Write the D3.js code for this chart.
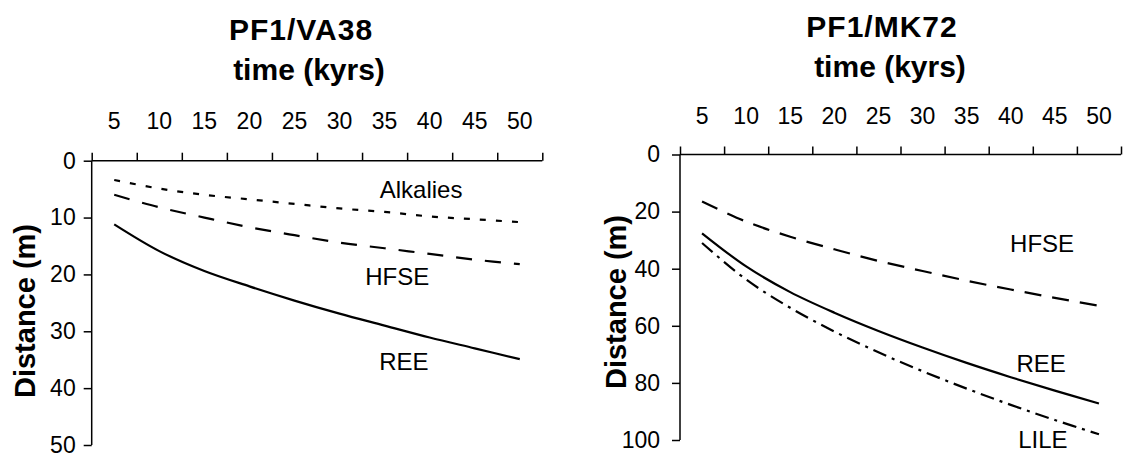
<!DOCTYPE html>
<html><head><meta charset="utf-8">
<script src="https://cdn.jsdelivr.net/npm/d3@7"></script>
<style>body{margin:0;background:#fff} svg{display:block}</style>
</head><body>
<svg id="c" width="1125" height="457"></svg>
<script>
const categories = ["5","10","15","20","25","30","35","40","45","50"];
const va38Alkalies = [3.4,4.9,6.0,6.8,7.6,8.4,9.0,9.8,10.3,10.8];
const va38HFSE     = [6.0,8.2,10.0,11.7,13.1,14.4,15.4,16.4,17.4,18.2];
const va38REE      = [11.2,15.9,19.4,22.1,24.6,26.9,29.0,31.1,33.0,34.9];
const mk72HFSE     = [16.5,23.5,28.8,33.2,37.3,40.8,44.2,47.3,50.2,53.0];
const mk72REE      = [27.6,39.2,48.2,55.4,61.8,67.6,73.0,78.0,82.7,87.2];
const mk72LILE     = [31.0,43.8,53.7,62.0,69.3,75.9,82.0,87.7,93.0,98.0];
const va38YTicks = [0,10,20,30,40,50];
const mk72YTicks = [0,20,40,60,80,100];

const FONT = "'Liberation Sans', Arial, Helvetica, sans-serif";
const svg = d3.select("#c");

function panel(p){
  const g = svg.append("g");
  const x = d3.scaleBand().domain(categories).range([p.x0, p.x1]).padding(0);
  const xi = d3.scaleLinear().domain([0, categories.length]).range([p.x0, p.x1]);
  const y = d3.scaleLinear().domain([0, p.yMax]).range([p.y0, p.y1]);

  // axis lines
  g.append("line").attr("x1", p.x0).attr("x2", p.x1).attr("y1", p.y0).attr("y2", p.y0)
    .attr("stroke","#000").attr("stroke-width",1.5);
  g.append("line").attr("x1", p.x0).attr("x2", p.x0).attr("y1", p.y0).attr("y2", p.y1)
    .attr("stroke","#000").attr("stroke-width",1.5);

  // x boundary ticks (upward)
  g.append("g").attr("transform",`translate(0,${p.y0})`)
    .call(d3.axisTop(xi).tickValues(d3.range(categories.length+1)).tickSize(8).tickFormat(""))
    .call(s=>s.select(".domain").remove())
    .selectAll("line").attr("stroke","#000").attr("stroke-width",1.5);

  // x labels centred in the categories
  const xl = g.append("g").attr("transform",`translate(0,${p.y0})`)
    .call(d3.axisTop(x).tickSize(0).tickPadding(p.xPad))
    .call(s=>s.select(".domain").remove());
  xl.attr("font-size",23).attr("font-family",FONT);
  xl.selectAll("text").attr("fill","#000");

  // y axis
  const yl = g.append("g").attr("transform",`translate(${p.x0},0)`)
    .call(d3.axisLeft(y).tickValues(p.yTicks).tickSize(8).tickPadding(p.yPad).tickFormat(d3.format("d")))
    .call(s=>s.select(".domain").remove());
  yl.attr("font-size",23).attr("font-family",FONT);
  yl.selectAll("line").attr("stroke","#000").attr("stroke-width",1.5);
  yl.selectAll("text").attr("fill","#000");

  // series
  const line = d3.line()
    .x((d,i)=>x(categories[i]) + x.bandwidth()/2)
    .y(d=>y(d))
    .curve(d3.curveCatmullRom.alpha(0.5));
  p.series.forEach(s=>{
    g.append("path").datum(s.values).attr("d", line)
      .attr("fill","none").attr("stroke","#000").attr("stroke-width",2.2)
      .attr("stroke-dasharray", s.dash || null);
    g.append("text").attr("x", xi(s.lx)).attr("y", y(s.ly))
      .attr("text-anchor","middle").attr("font-family",FONT).attr("font-size",24)
      .attr("fill","#000").text(s.name);
  });

  // titles
  g.append("text").attr("x", p.titleX).attr("y", p.titleY).attr("text-anchor","middle")
    .attr("font-family",FONT).attr("font-weight","bold").attr("font-size",30)
    .attr("letter-spacing",1).text(p.title);
  g.append("text").attr("x", p.timeX).attr("y", p.timeY).attr("text-anchor","middle")
    .attr("font-family",FONT).attr("font-weight","bold").attr("font-size",30).text("time (kyrs)");
  g.append("text").attr("transform",`translate(${p.distX},${p.distY}) rotate(-90)`)
    .attr("text-anchor","middle").attr("dominant-baseline","central")
    .attr("font-family",FONT).attr("font-weight","bold").attr("font-size",29).text("Distance (m)");
}

panel({
  x0: 91.7, x1: 542.3, y0: 160.7, y1: 445, yMax: 50, yTicks: va38YTicks,
  xPad: 32, yPad: 8,
  title: "PF1/VA38", titleX: 301, titleY: 40, timeX: 309, timeY: 80, distX: 25, distY: 311,
  series: [
    {name:"Alkalies", values: va38Alkalies, dash:"6,10", lx:7.31, ly:6.6},
    {name:"HFSE", values: va38HFSE, dash:"16,13", lx:6.78, ly:21.9},
    {name:"REE", values: va38REE, dash:null, lx:6.93, ly:36.8}
  ]
});

panel({
  x0: 680, x1: 1121, y0: 154.5, y1: 440, yMax: 100, yTicks: mk72YTicks,
  xPad: 31, yPad: 12,
  title: "PF1/MK72", titleX: 882, titleY: 37, timeX: 890, timeY: 77, distX: 616, distY: 302,
  series: [
    {name:"HFSE", values: mk72HFSE, dash:"17,11", lx:8.21, ly:34.0},
    {name:"REE", values: mk72REE, dash:null, lx:8.19, ly:76.1},
    {name:"LILE", values: mk72LILE, dash:"14,6,3,6", lx:8.23, ly:102.8}
  ]
});
</script>
</body></html>
